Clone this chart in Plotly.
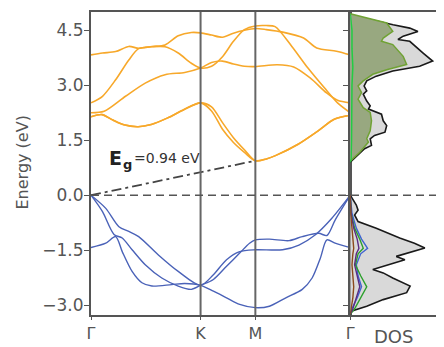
import plotly.graph_objects as go

# ---------------- data ----------------
kpath_labels = ["Γ", "K", "M", "Γ"]
kpath_pos = [0.0, 1.0, 1.5, 2.366]
y_ticks = [-3.0, -1.5, 0.0, 1.5, 3.0, 4.5]
gap_value = 0.94
gap_k = [0.0, 1.5]
gap_E = [0.0, gap_value]

# conduction bands
cb1_k = [0, 0.1, 0.2, 0.3, 0.43, 0.55, 0.7, 0.85, 1.0, 1.1, 1.2, 1.3, 1.4, 1.5, 1.6, 1.683, 1.89, 2.07, 2.22, 2.366]
cb1_E = [2.14, 2.2, 2.05, 1.92, 1.87, 1.93, 2.11, 2.34, 2.52, 2.30, 1.80, 1.44, 1.17, 0.94, 0.99, 1.08, 1.39, 1.75, 2.07, 2.18]
cb2_k = [0, 0.1, 0.2, 0.3, 0.43, 0.55, 0.7, 0.85, 1.0, 1.1, 1.2, 1.3, 1.4, 1.5, 1.6, 1.683, 1.89, 2.07, 2.22, 2.366]
cb2_E = [2.14, 2.2, 2.05, 1.92, 1.87, 1.93, 2.11, 2.34, 2.52, 2.41, 1.98, 1.57, 1.24, 0.94, 0.99, 1.08, 1.39, 1.75, 2.07, 2.18]
cb3_k = [0, 0.12, 0.315, 0.495, 0.676, 0.856, 1.0, 1.1, 1.2, 1.3, 1.4, 1.5, 1.7, 1.85, 2.0, 2.15, 2.25, 2.366]
cb3_E = [2.25, 2.29, 2.70, 3.06, 3.29, 3.35, 3.47, 3.62, 3.66, 3.58, 3.52, 3.51, 3.56, 3.50, 3.20, 2.79, 2.59, 2.52]
cb4_k = [0, 0.105, 0.225, 0.345, 0.435, 0.556, 0.676, 0.796, 0.916, 1.0, 1.1, 1.2, 1.3, 1.4, 1.5, 1.6, 1.68, 1.833, 1.98, 2.13, 2.25, 2.366]
cb4_E = [2.52, 2.70, 3.15, 3.69, 4.00, 4.05, 4.05, 3.88, 3.60, 3.47, 3.52, 3.78, 4.20, 4.52, 4.62, 4.63, 4.60, 4.06, 3.47, 2.93, 2.52, 2.25]
cb5_k = [0, 0.105, 0.225, 0.345, 0.435, 0.556, 0.676, 0.796, 0.916, 1.0, 1.1, 1.2, 1.3, 1.4, 1.5, 1.6, 1.75, 1.94, 2.06, 2.24, 2.366]
cb5_E = [3.83, 3.88, 3.92, 4.06, 4.01, 4.06, 4.10, 4.35, 4.44, 4.43, 4.37, 4.31, 4.42, 4.50, 4.55, 4.52, 4.45, 4.29, 4.02, 3.93, 3.83]

# valence bands
vb1_k = [0, 0.135, 0.255, 0.345, 0.435, 0.615, 0.796, 1.0, 1.117, 1.237, 1.357, 1.5, 1.748, 1.898, 2.048, 2.198, 2.366]
vb1_E = [0, -0.36, -0.86, -0.99, -1.13, -1.63, -2.08, -2.46, -2.17, -1.76, -1.54, -1.49, -1.49, -1.36, -1.08, -0.63, 0]
vb2_k = [0, 0.105, 0.21, 0.285, 0.375, 0.495, 0.646, 0.796, 0.916, 1.0, 1.117, 1.237, 1.357, 1.447, 1.5, 1.628, 1.808, 1.928, 2.078, 2.153, 2.228, 2.366]
vb2_E = [0, -0.45, -1.07, -1.17, -1.49, -1.90, -2.26, -2.48, -2.57, -2.46, -2.30, -1.94, -1.58, -1.31, -1.22, -1.20, -1.24, -1.13, -1.04, -1.10, -0.68, 0]
vb3_k = [0, 0.135, 0.225, 0.285, 0.375, 0.465, 0.556, 0.736, 0.856, 1.0, 1.117, 1.237, 1.357, 1.5, 1.628, 1.778, 1.928, 2.018, 2.093, 2.153, 2.228, 2.366]
vb3_E = [-1.43, -1.31, -1.13, -1.54, -2.08, -2.39, -2.48, -2.44, -2.41, -2.46, -2.62, -2.80, -2.98, -3.07, -3.03, -2.80, -2.57, -2.26, -1.72, -1.22, -1.31, -1.43]

# DOS (fraction of panel width)
dos_cb_E = [4.92, 4.79, 4.65, 4.56, 4.47, 4.34, 4.25, 4.20, 4.02, 3.88, 3.66, 3.52, 3.39, 3.25, 3.12, 2.98, 2.85, 2.76, 2.57, 2.44, 2.35, 2.21, 2.03, 1.90, 1.72, 1.63, 1.54, 1.36, 1.27, 0.99, 0.90]
dos_cb_tot = [0.0, 0.226, 0.494, 0.686, 0.78, 0.61, 0.55, 0.686, 0.78, 0.84, 0.95, 0.80, 0.49, 0.30, 0.19, 0.16, 0.19, 0.15, 0.19, 0.23, 0.21, 0.36, 0.38, 0.42, 0.40, 0.28, 0.23, 0.245, 0.165, 0.04, 0.0]
dos_cb_pE = [4.95, 4.70, 4.47, 4.29, 4.20, 4.11, 3.79, 3.57, 3.43, 3.30, 3.12, 2.98, 2.80, 2.62, 2.39, 2.26, 2.03, 1.76, 1.54, 1.45, 1.17, 0.93]
dos_cb_p = [0.0, 0.42, 0.49, 0.38, 0.36, 0.49, 0.61, 0.65, 0.43, 0.26, 0.15, 0.09, 0.13, 0.09, 0.15, 0.23, 0.245, 0.23, 0.19, 0.21, 0.11, 0.0]
dos_cb_gE = [4.95, 4.5, 4.0, 3.5, 3.0, 2.5, 2.0, 1.5, 1.0, 0.9]
dos_cb_g = [0.0, 0.02, 0.02, 0.03, 0.02, 0.02, 0.02, 0.015, 0.01, 0.0]

dos_vb_E = [0, -0.27, -0.41, -0.54, -0.72, -0.90, -1.17, -1.31, -1.44, -1.54, -1.67, -1.76, -2.03, -2.12, -2.26, -2.48, -2.66, -2.85, -3.03, -3.16, -3.25]
dos_vb_tot = [0, 0.07, 0.09, 0.05, 0.09, 0.30, 0.57, 0.74, 0.86, 0.72, 0.53, 0.63, 0.26, 0.38, 0.49, 0.69, 0.65, 0.38, 0.19, 0.02, 0.0]
pdos_vb_E = [0, -0.5, -0.9, -1.2, -1.45, -1.6, -1.9, -2.2, -2.5, -2.8, -3.1, -3.25]
pdos_blue = [0, 0.02, 0.07, 0.13, 0.20, 0.12, 0.07, 0.09, 0.13, 0.08, 0.02, 0]
pdos_green = [0, 0.01, 0.05, 0.11, 0.15, 0.09, 0.06, 0.12, 0.19, 0.12, 0.05, 0]
pdos_purple = [0, 0.01, 0.04, 0.08, 0.10, 0.07, 0.05, 0.08, 0.11, 0.07, 0.03, 0]
pdos_brown = [0, 0.005, 0.02, 0.03, 0.04, 0.03, 0.02, 0.03, 0.04, 0.03, 0.01, 0]

# ---------------- styling ----------------
ORANGE = "#f7a82a"
BLUE = "#4a62b8"
FRAME = "#555555"
FONT = "DejaVu Sans, Liberation Sans, Arial"
TXT = "#555555"

# page body has an 8px default margin: figure is sized/offset to compensate
FIG_W, FIG_H = 436, 339
M_L, M_R, M_T, M_B = 83, 2, 3, 32
PLOT_W = FIG_W - M_L - M_R
PLOT_H = FIG_H - M_T - M_B


def px_to_paper(px, py):
    # px, py: page pixel positions in the 444x347 window
    return (px - 8 - M_L) / PLOT_W, (FIG_H - M_B - (py - 8)) / PLOT_H


fig = go.Figure()

for k, E in [(cb1_k, cb1_E), (cb2_k, cb2_E), (cb3_k, cb3_E), (cb4_k, cb4_E), (cb5_k, cb5_E)]:
    fig.add_trace(go.Scatter(x=k, y=E, mode="lines", line=dict(color=ORANGE, width=1.6, shape="spline", smoothing=0.8),
                             xaxis="x", yaxis="y", showlegend=False, hoverinfo="skip"))
for k, E in [(vb1_k, vb1_E), (vb2_k, vb2_E), (vb3_k, vb3_E)]:
    fig.add_trace(go.Scatter(x=k, y=E, mode="lines", line=dict(color=BLUE, width=1.4, shape="spline", smoothing=0.8),
                             xaxis="x", yaxis="y", showlegend=False, hoverinfo="skip"))

# gap line
fig.add_trace(go.Scatter(x=gap_k, y=gap_E, mode="lines", line=dict(color="#444444", width=1.8, dash="10px,4px,3px,4px"),
                         xaxis="x", yaxis="y", showlegend=False, hoverinfo="skip"))

# DOS panel
fig.add_trace(go.Scatter(x=dos_cb_tot, y=dos_cb_E, mode="lines", fill="tozerox", fillcolor="#d9d9d9",
                         line=dict(color="#1a1a1a", width=1.6), xaxis="x2", yaxis="y2", showlegend=False, hoverinfo="skip"))
fig.add_trace(go.Scatter(x=dos_vb_tot, y=dos_vb_E, mode="lines", fill="tozerox", fillcolor="#d9d9d9",
                         line=dict(color="#1a1a1a", width=1.6), xaxis="x2", yaxis="y2", showlegend=False, hoverinfo="skip"))
fig.add_trace(go.Scatter(x=dos_cb_p, y=dos_cb_pE, mode="lines", fill="tozerox", fillcolor="rgb(152,168,128)",
                         line=dict(color="rgb(112,162,52)", width=1.5), xaxis="x2", yaxis="y2", showlegend=False, hoverinfo="skip"))
fig.add_trace(go.Scatter(x=dos_cb_g, y=dos_cb_gE, mode="lines", line=dict(color="#22cc44", width=1.5),
                         xaxis="x2", yaxis="y2", showlegend=False, hoverinfo="skip"))
for vals, col in [(pdos_blue, "#3f64d0"), (pdos_green, "#2ca02c"), (pdos_purple, "#5b2c83"), (pdos_brown, "#8b4a1c")]:
    fig.add_trace(go.Scatter(x=vals, y=pdos_vb_E, mode="lines", line=dict(color=col, width=1.4),
                             xaxis="x2", yaxis="y2", showlegend=False, hoverinfo="skip"))

# shapes: vertical lines at K and M, zero line
shapes = []
for kp in kpath_pos[1:3]:
    shapes.append(dict(type="line", xref="x", yref="y domain", x0=kp, x1=kp, y0=0, y1=1,
                       line=dict(color="#666666", width=2)))
shapes.append(dict(type="line", xref="paper", yref="y", x0=0, x1=1, y0=0, y1=0,
                   line=dict(color="#555555", width=1.6, dash="8px,5px")))

dom_split = px_to_paper(354, 0)[0]

ann_energy = px_to_paper(22, 162)
ann_dos = px_to_paper(398, 337)
ann_E = px_to_paper(116, 157)
ann_g = px_to_paper(128, 164)
ann_rest = px_to_paper(133, 157)

fig.update_layout(
    width=FIG_W, height=FIG_H,
    margin=dict(l=M_L, r=M_R, t=M_T, b=M_B),
    plot_bgcolor="white", paper_bgcolor="white",
    font=dict(family=FONT, color=TXT, size=16),
    shapes=shapes,
    xaxis=dict(domain=[0, dom_split], range=[kpath_pos[0], kpath_pos[-1]], tickvals=kpath_pos, ticktext=kpath_labels,
               showline=True, mirror=True, linecolor=FRAME, linewidth=2, ticks="outside", ticklen=3,
               tickcolor=FRAME, showgrid=False, zeroline=False, tickfont=dict(size=16, color=TXT)),
    yaxis=dict(range=[-3.27, 5.0], tickvals=y_ticks, tickformat=".1f", showline=True, mirror="ticks",
               linecolor=FRAME, linewidth=2, ticks="outside", ticklen=5, tickcolor=FRAME,
               showgrid=False, zeroline=False, tickfont=dict(size=17, color=TXT), ticklabelstandoff=-3),
    xaxis2=dict(domain=[dom_split, 1], range=[0, 1], showticklabels=False, ticks="", showline=True, mirror=True,
                linecolor=FRAME, linewidth=2, showgrid=False, zeroline=False, anchor="y2"),
    yaxis2=dict(anchor="x2", matches="y", range=[-3.27, 5.0], tickvals=y_ticks, showticklabels=False,
                ticks="outside", ticklen=5, tickcolor=FRAME, showline=True, mirror=True, linecolor=FRAME,
                linewidth=2, showgrid=False, zeroline=False),
    annotations=[
        dict(text="Energy (eV)", xref="paper", yref="paper", x=ann_energy[0], y=ann_energy[1], textangle=-90,
             showarrow=False, font=dict(size=16, color=TXT, family=FONT), xanchor="center", yanchor="middle"),
        dict(text="DOS", xref="paper", yref="paper", x=ann_dos[0], y=ann_dos[1], showarrow=False,
             font=dict(size=18, color=TXT, family=FONT), xanchor="center", yanchor="middle"),
        dict(text="<b>E</b>", xref="paper", yref="paper", x=ann_E[0], y=ann_E[1], showarrow=False,
             font=dict(size=19, color="#222222", family=FONT), xanchor="center", yanchor="middle"),
        dict(text="<b>g</b>", xref="paper", yref="paper", x=ann_g[0], y=ann_g[1], showarrow=False,
             font=dict(size=13, color="#222222", family=FONT), xanchor="center", yanchor="middle"),
        dict(text="=%.2f eV" % gap_value, xref="paper", yref="paper", x=ann_rest[0], y=ann_rest[1], showarrow=False,
             font=dict(size=14, color="#333333", family=FONT), xanchor="left", yanchor="middle"),
    ],
)

fig.write_html("out.html")
